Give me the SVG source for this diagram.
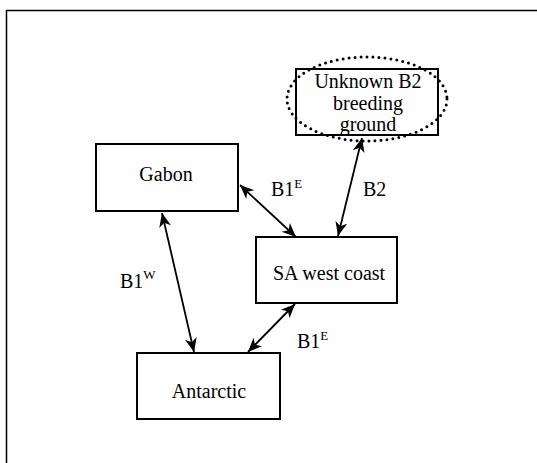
<svg xmlns="http://www.w3.org/2000/svg" width="537" height="463" viewBox="0 0 537 463">
<style>
.box{fill:#fff;stroke:#000;stroke-width:2}
.t{font-family:"Liberation Serif","Times New Roman",serif;font-size:20px;fill:#000;text-anchor:middle}
.l{font-family:"Liberation Serif","Times New Roman",serif;font-size:20px;fill:#000}
.s{font-size:13px}
.c{stroke:#000;stroke-width:1.8;fill:none;marker-start:url(#a);marker-end:url(#a)}
</style>
<defs>
<marker id="a" markerUnits="userSpaceOnUse" viewBox="-14 -7 16 14" refX="0" refY="0" markerWidth="16" markerHeight="14" orient="auto-start-reverse">
<path d="M0,0 L-14,-6 L-10,0 L-14,6 Z" fill="#000"/>
</marker>
</defs>
<rect width="537" height="463" fill="#fff"/>
<path d="M6.5,463 V10.5 H537" fill="none" stroke="#000" stroke-width="1.5"/>
<g id="unknown">
<rect class="box" x="296" y="69" width="142" height="66"/>
<ellipse cx="367" cy="99" rx="80" ry="42" fill="none" stroke="#000" stroke-width="3" stroke-dasharray="0 6" stroke-linecap="round"/>
<text class="t" x="368" y="88">Unknown B2</text>
<text class="t" x="368" y="110">breeding</text>
<text class="t" x="368" y="131">ground</text>
</g>
<g id="gabon">
<rect class="box" x="96" y="144" width="142" height="67"/>
<text class="t" x="166" y="181">Gabon</text>
</g>
<g id="sa">
<rect class="box" x="256" y="237" width="141" height="66"/>
<text class="t" x="329" y="280">SA west coast</text>
</g>
<g id="antarctic">
<rect class="box" x="137" y="353" width="143" height="66"/>
<text class="t" x="209" y="398">Antarctic</text>
</g>
<g id="connectors">
<line class="c" x1="240" y1="185" x2="296" y2="237"/>
<line class="c" x1="362" y1="138" x2="338" y2="236"/>
<line class="c" x1="162" y1="213" x2="194" y2="352"/>
<line class="c" x1="295" y1="304" x2="248" y2="352"/>
</g>
<g id="labels">
<text class="l" x="271" y="196">B1<tspan class="s" dy="-8">E</tspan></text>
<text class="l" x="363" y="196">B2</text>
<text class="l" x="120" y="288">B1<tspan class="s" dy="-9">W</tspan></text>
<text class="l" x="297" y="348">B1<tspan class="s" dy="-8">E</tspan></text>
</g>
</svg>
